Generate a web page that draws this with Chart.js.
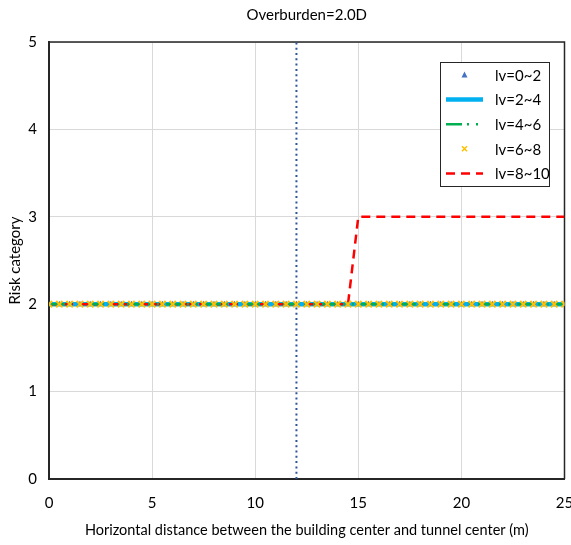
<!DOCTYPE html>
<html>
<head>
<meta charset="utf-8">
<script src="https://cdn.jsdelivr.net/npm/chart.js@4"></script>
<style>
  html, body { margin: 0; padding: 0; background: #fff; overflow: hidden; }
  #wrap { width: 571px; height: 545px; }
</style>
</head>
<body>
<div id="wrap"><canvas id="riskChart"></canvas></div>
<script>
// Horizontal distance (m)
const distance = [0,0.5,1,1.5,2,2.5,3,3.5,4,4.5,5,5.5,6,6.5,7,7.5,8,8.5,9,9.5,
                  10,10.5,11,11.5,12,12.5,13,13.5,14,14.5,15,15.5,16,16.5,17,17.5,18,18.5,19,19.5,
                  20,20.5,21,21.5,22,22.5,23,23.5,24,24.5,25];

// Risk category per series
const lv0to2 = [2,2,2,2,2,2,2,2,2,2, 2,2,2,2,2,2,2,2,2,2, 2,2,2,2,2,2,2,2,2,2, 2,2,2,2,2,2,2,2,2,2, 2,2,2,2,2,2,2,2,2,2, 2];
const lv2to4 = [2,2,2,2,2,2,2,2,2,2, 2,2,2,2,2,2,2,2,2,2, 2,2,2,2,2,2,2,2,2,2, 2,2,2,2,2,2,2,2,2,2, 2,2,2,2,2,2,2,2,2,2, 2];
const lv4to6 = [2,2,2,2,2,2,2,2,2,2, 2,2,2,2,2,2,2,2,2,2, 2,2,2,2,2,2,2,2,2,2, 2,2,2,2,2,2,2,2,2,2, 2,2,2,2,2,2,2,2,2,2, 2];
const lv6to8 = [2,2,2,2,2,2,2,2,2,2, 2,2,2,2,2,2,2,2,2,2, 2,2,2,2,2,2,2,2,2,2, 2,2,2,2,2,2,2,2,2,2, 2,2,2,2,2,2,2,2,2,2, 2];
const lv8to10 = [2,2,2,2,2,2,2,2,2,2, 2,2,2,2,2,2,2,2,2,2, 2,2,2,2,2,2,2,2,2,2, 3,3,3,3,3,3,3,3,3,3, 3,3,3,3,3,3,3,3,3,3, 3];

const seriesLabels = ['lv=0~2', 'lv=2~4', 'lv=4~6', 'lv=6~8', 'lv=8~10'];

// tunnel/building marker line
const markerX = [12, 12];
const markerY = [0, 5];

const xTicks = [0, 5, 10, 15, 20, 25];
const yTicks = [0, 1, 2, 3, 4, 5];

const FONT = 'Lato, "Open Sans", sans-serif';

function toPoints(xs, ys) {
    return xs.map((x, i) => ({ x: x, y: ys[i] }));
}

// box around the plot (top + right edges)
const frame = {
    id: 'frame',
    beforeDatasetsDraw(chart) {
        const { ctx, chartArea: a } = chart;
        ctx.save();
        ctx.strokeStyle = '#262626';
        ctx.lineWidth = 1.5;
        ctx.beginPath();
        ctx.moveTo(a.left, a.top);
        ctx.lineTo(a.right, a.top);
        ctx.lineTo(a.right, a.bottom);
        ctx.stroke();
        ctx.restore();
    }
};

// Excel style legend inside plot
const boxLegend = {
    id: 'boxLegend',
    afterDraw(chart) {
        const ctx = chart.ctx;
        const left = 440, top = 62, w = 109, h = 124;
        ctx.save();
        ctx.fillStyle = '#fff';
        ctx.fillRect(left, top, w, h);
        ctx.strokeStyle = '#262626';
        ctx.lineWidth = 1;
        ctx.strokeRect(left + 0.5, top + 0.5, w, h);

        chart.data.datasets.slice(0, 5).forEach((ds, i) => {
            const y = top + 13 + i * 24.6;
            const x0 = left + 6, x1 = left + 43, cx = (x0 + x1) / 2;
            ctx.setLineDash([]);
            if (ds.showLine === false) {
                ctx.fillStyle = ds.pointBackgroundColor;
                ctx.strokeStyle = ds.pointBorderColor;
                if (ds.pointStyle === 'triangle') {
                    ctx.beginPath();
                    ctx.moveTo(cx, y - 3.5);
                    ctx.lineTo(cx + 3, y + 2.5);
                    ctx.lineTo(cx - 3, y + 2.5);
                    ctx.closePath();
                    ctx.fill();
                } else {
                    ctx.lineWidth = 1.5;
                    ctx.beginPath();
                    ctx.moveTo(cx - 2.5, y - 2.5); ctx.lineTo(cx + 2.5, y + 2.5);
                    ctx.moveTo(cx + 2.5, y - 2.5); ctx.lineTo(cx - 2.5, y + 2.5);
                    ctx.stroke();
                }
            } else {
                ctx.strokeStyle = ds.borderColor;
                ctx.lineWidth = ds.borderWidth;
                ctx.setLineDash(ds.borderDash || []);
                ctx.beginPath();
                ctx.moveTo(x0, y);
                ctx.lineTo(x1, y);
                ctx.stroke();
            }
            ctx.setLineDash([]);
            ctx.fillStyle = '#000';
            ctx.font = '15px ' + FONT;
            ctx.textBaseline = 'middle';
            ctx.textAlign = 'left';
            ctx.fillText(ds.label, left + 55, y + 1);
        });
        ctx.restore();
    }
};

new Chart(document.getElementById('riskChart'), {
    type: 'line',
    data: {
        datasets: [
            {
                label: seriesLabels[0],
                data: toPoints(distance, lv0to2),
                showLine: false,
                pointStyle: 'triangle',
                pointRadius: 3.5,
                pointBackgroundColor: '#4472C4',
                pointBorderColor: '#4472C4',
                pointBorderWidth: 0,
                order: 2
            },
            {
                label: seriesLabels[1],
                data: toPoints(distance, lv2to4),
                borderColor: '#00B0F0',
                borderWidth: 4.5,
                pointRadius: 0,
                order: 5
            },
            {
                label: seriesLabels[2],
                data: toPoints(distance, lv4to6),
                borderColor: '#00B050',
                borderWidth: 2.5,
                borderDash: [16, 5, 2, 7, 2, 7],
                pointRadius: 0,
                order: 3
            },
            {
                label: seriesLabels[3],
                data: toPoints(distance, lv6to8),
                showLine: false,
                pointStyle: 'crossRot',
                pointRadius: 4.5,
                pointBorderWidth: 2,
                pointBackgroundColor: '#FFC000',
                pointBorderColor: '#FFC000',
                order: 1
            },
            {
                label: seriesLabels[4],
                data: toPoints(distance, lv8to10),
                borderColor: '#FF0000',
                borderWidth: 2.5,
                borderDash: [9, 6],
                pointRadius: 0,
                order: 4
            },
            {
                label: 'marker',
                data: toPoints(markerX, markerY),
                borderColor: '#2F5597',
                borderWidth: 2,
                borderDash: [2, 3.3],
                pointRadius: 0,
                order: 6
            }
        ]
    },
    options: {
        responsive: true,
        maintainAspectRatio: false,
        animation: false,
        layout: { padding: { left: 0, top: 0, bottom: 0, right: 5 } },
        plugins: {
            legend: { display: false },
            tooltip: { enabled: false },
            title: {
                display: true,
                fullSize: false,
                text: 'Overburden=2.0D',
                color: '#000',
                font: { family: FONT, size: 15, weight: 'normal' },
                padding: { top: 6, bottom: 18 }
            }
        },
        scales: {
            x: {
                type: 'linear',
                min: 0,
                max: 25,
                afterBuildTicks: (s) => { s.ticks = xTicks.map(v => ({ value: v })); },
                afterFit: (s) => { s.height = 66; s.paddingLeft = 0; s.paddingRight = 0; },
                grid: { color: '#d9d9d9', lineWidth: 1, drawTicks: false },
                border: { color: '#262626', width: 2 },
                ticks: { color: '#000', padding: 15, maxRotation: 0, font: { family: FONT, size: 15 } },
                title: {
                    display: true,
                    text: 'Horizontal distance between the building center and tunnel center (m)',
                    color: '#000',
                    font: { family: FONT, size: 14.5 },
                    padding: { top: 0, bottom: 6 }
                }
            },
            y: {
                min: 0,
                max: 5,
                afterBuildTicks: (s) => { s.ticks = yTicks.map(v => ({ value: v })); },
                afterFit: (s) => { s.width = 49; },
                grid: { color: '#d9d9d9', lineWidth: 1, drawTicks: false },
                border: { color: '#262626', width: 2 },
                ticks: { color: '#000', padding: 12, font: { family: FONT, size: 15 } },
                title: {
                    display: true,
                    text: 'Risk category',
                    color: '#000',
                    font: { family: FONT, size: 15 },
                    padding: { top: 6, bottom: 0 }
                }
            }
        }
    },
    plugins: [frame, boxLegend]
});
</script>
</body>
</html>
